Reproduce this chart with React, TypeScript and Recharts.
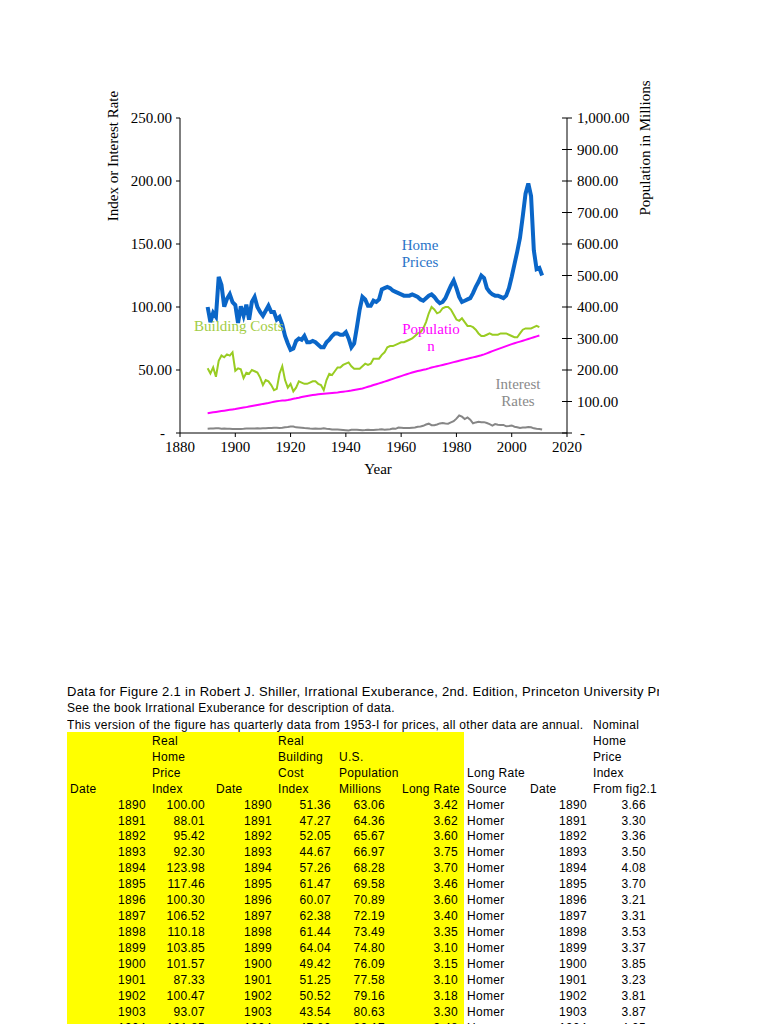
import React from "react";
import { LineChart, Line, XAxis, YAxis } from "recharts";

// years of the annual series
const years = [
  1890, 1891, 1892, 1893, 1894, 1895, 1896, 1897, 1898, 1899,
  1900, 1901, 1902, 1903, 1904, 1905, 1906, 1907, 1908, 1909,
  1910, 1911, 1912, 1913, 1914, 1915, 1916, 1917, 1918, 1919,
  1920, 1921, 1922, 1923, 1924, 1925, 1926, 1927, 1928, 1929,
  1930, 1931, 1932, 1933, 1934, 1935, 1936, 1937, 1938, 1939,
  1940, 1941, 1942, 1943, 1944, 1945, 1946, 1947, 1948, 1949,
  1950, 1951, 1952, 1953, 1954, 1955, 1956, 1957, 1958, 1959,
  1960, 1961, 1962, 1963, 1964, 1965, 1966, 1967, 1968, 1969,
  1970, 1971, 1972, 1973, 1974, 1975, 1976, 1977, 1978, 1979,
  1980, 1981, 1982, 1983, 1984, 1985, 1986, 1987, 1988, 1989,
  1990, 1991, 1992, 1993, 1994, 1995, 1996, 1997, 1998, 1999,
  2000, 2001, 2002, 2003, 2004, 2005, 2006, 2007, 2008, 2009,
  2010, 2011,
];

// Real Home Price Index
const homePrices = [
  100.0, 88.01, 95.42, 92.3, 123.98, 117.46, 100.3, 106.52, 110.18, 103.85,
  101.57, 87.33, 100.47, 93.07, 101.85, 90, 104, 108, 100, 96,
  93, 97, 101, 96, 96, 90, 92, 86, 77, 71,
  66, 67, 73, 75, 74, 77, 72, 72, 73, 72,
  70, 68, 68, 72, 74, 77, 79, 79, 78, 78,
  80, 75, 68, 71, 84, 98, 108, 106, 101, 101,
  105, 104, 106, 114, 115, 116, 115, 113, 112, 111,
  110, 109, 109, 109, 110, 109, 108, 106, 105, 107,
  109, 110, 108, 105, 103, 104, 107, 112, 117, 121,
  115, 108, 104, 105, 106, 107, 111, 116, 120, 125,
  123, 115, 112, 110, 109, 109, 108, 107, 109, 115,
  124, 134, 144, 155, 172, 190, 198, 188, 145, 130,
  131, 125,
];

// Real Building Cost Index
const buildingCosts = [
  51.36, 47.27, 52.05, 44.67, 57.26, 61.47, 60.07, 62.38, 61.44, 64.04,
  49.42, 51.25, 50.52, 43.54, 47.8, 47, 50, 49, 48, 44,
  38, 42, 41, 38, 34, 35, 47, 53, 42, 36,
  39, 33, 36, 41, 40, 39, 39, 40, 41, 41,
  39, 38, 34, 42, 47, 46, 49, 52, 52, 54,
  55, 56, 53, 51, 51, 51, 53, 55, 54, 55,
  59, 59, 59, 62, 64, 68, 69, 69, 70, 71,
  72, 72, 73, 74, 75, 77, 79, 80, 83, 88,
  95, 100, 98, 95, 96, 99, 100, 100, 98, 94,
  90, 89, 91, 88, 85, 85, 84, 82, 79, 77,
  77, 78, 79, 78, 78, 78, 79, 79, 79, 78,
  77, 76, 76, 79, 82, 83, 83, 83, 84, 85,
  84,
];

// U.S. Population, millions
const population = [
  63.06, 64.36, 65.67, 66.97, 68.28, 69.58, 70.89, 72.19, 73.49, 74.8,
  76.09, 77.58, 79.16, 80.63, 82.17, 83.82, 85.45, 87.01, 88.71, 90.49,
  92.41, 93.86, 95.34, 97.23, 99.11, 100.55, 101.96, 103.27, 103.21, 104.51,
  106.46, 108.54, 110.05, 111.95, 114.11, 115.83, 117.4, 119.04, 120.51, 121.77,
  123.08, 124.04, 124.84, 125.58, 126.37, 127.25, 128.05, 128.83, 129.83, 130.88,
  132.12, 133.4, 134.86, 136.74, 138.4, 139.93, 141.39, 144.13, 146.63, 149.19,
  152.27, 154.88, 157.55, 160.18, 163.03, 165.93, 168.9, 171.98, 174.88, 177.83,
  180.67, 183.69, 186.54, 189.24, 191.89, 194.3, 196.56, 198.71, 200.71, 202.68,
  205.05, 207.66, 209.9, 211.91, 213.85, 215.97, 218.04, 220.24, 222.59, 225.06,
  227.23, 229.47, 231.66, 233.79, 235.82, 237.92, 240.13, 242.29, 244.5, 246.82,
  249.62, 252.98, 256.51, 259.92, 263.13, 266.28, 269.39, 272.65, 275.85, 279.04,
  282.16, 285.0, 287.6, 290.1, 292.8, 295.5, 298.4, 301.2, 304.1, 306.8,
  309.3,
];

// Long rate
const longRates = [
  3.42, 3.62, 3.6, 3.75, 3.7, 3.46, 3.6, 3.4, 3.35, 3.1,
  3.15, 3.1, 3.18, 3.3, 3.48, 3.5, 3.5, 3.6, 3.7, 3.6,
  3.7, 3.8, 3.9, 4.0, 4.1, 4.1, 4.0, 4.1, 4.5, 4.7,
  5.1, 5.2, 4.5, 4.4, 4.2, 3.9, 3.8, 3.5, 3.3, 3.6,
  3.3, 3.3, 3.7, 3.3, 3.2, 2.8, 2.7, 2.7, 2.6, 2.4,
  2.2, 2.0, 2.5, 2.5, 2.5, 2.4, 2.2, 2.3, 2.5, 2.3,
  2.3, 2.6, 2.7, 2.9, 2.5, 2.8, 3.0, 3.5, 3.3, 4.3,
  4.1, 3.9, 3.9, 4.0, 4.2, 4.3, 4.9, 5.1, 5.7, 6.7,
  7.4, 6.2, 6.2, 6.8, 7.6, 8.0, 7.6, 7.4, 8.4, 9.4,
  11.4, 13.9, 13.0, 11.1, 12.4, 10.6, 7.7, 8.4, 8.9, 8.5,
  8.6, 7.9, 7.0, 5.9, 7.1, 6.6, 6.4, 6.4, 5.3, 5.6,
  6.0, 5.0, 4.6, 4.0, 4.3, 4.3, 4.8, 4.6, 3.7, 3.3,
  3.2, 2.8,
];

// Nominal Home Price Index (first rows of the sheet)
const nominalIndex = [
  3.66, 3.3, 3.36, 3.5, 4.08, 3.7, 3.21, 3.31, 3.53, 3.37,
  3.85, 3.23, 3.81, 3.87, 4.05,
];

const leftTicks = [0, 50, 100, 150, 200, 250];
const rightTicks = [0, 100, 200, 300, 400, 500, 600, 700, 800, 900, 1000];
const yearTicks = [1880, 1900, 1920, 1940, 1960, 1980, 2000, 2020];

const data = years.map((year, i) => ({
  year,
  home: homePrices[i] ?? null,
  build: buildingCosts[i] ?? null,
  pop: population[i] ?? null,
  rate: longRates[i] ?? null,
}));

const SERIF = "'Liberation Serif', 'DejaVu Serif', serif";
const SANS = "'Liberation Sans', Arial, sans-serif";

const fmt = (v: number) =>
  v === 0
    ? "-"
    : v.toLocaleString("en-US", {
        minimumFractionDigits: 2,
        maximumFractionDigits: 2,
      });

const LeftTick = (props: any) => {
  const { x, y, payload } = props;
  const v = payload.value;
  return (
    <text
      x={v === 0 ? x - 7 : x}
      y={y + 5}
      textAnchor="end"
      fontFamily={SERIF}
      fontSize={15}
      fill="#000"
    >
      {fmt(v)}
    </text>
  );
};

// right axis ticks cross the axis line
const RightTick = (props: any) => {
  const { x, y, payload } = props;
  const v = payload.value;
  return (
    <g>
      <line x1={x - 15} x2={x - 5} y1={y} y2={y} stroke="#000" />
      <text
        x={v === 0 ? x + 3 : x}
        y={y + 5}
        textAnchor="start"
        fontFamily={SERIF}
        fontSize={15}
        fill="#000"
      >
        {fmt(v)}
      </text>
    </g>
  );
};

const YearTick = (props: any) => {
  const { x, y, payload } = props;
  return (
    <text
      x={x}
      y={y + 11}
      textAnchor="middle"
      fontFamily={SERIF}
      fontSize={15}
      fill="#000"
    >
      {payload.value}
    </text>
  );
};

// spreadsheet block under the chart
const titleLines = [
  "Data for Figure 2.1 in Robert J. Shiller, Irrational Exuberance, 2nd. Edition, Princeton University Press",
  "See the book Irrational Exuberance for description of data.",
  "This version of the figure has quarterly data from 1953-I for prices, all other data are annual.",
];

const ROW_H = 15.95;
// centre of each sheet row
const rowCenter = (r: number) =>
  r === 0 ? 690 : r === 1 ? 706.5 : 723.3 + (r - 2) * ROW_H;

type Cell = { text: string; left?: number; right?: number; row: number; size?: number };

function buildCells(): Cell[] {
  const cells: Cell[] = [];
  titleLines.forEach((t, i) =>
    cells.push({ text: t, left: 67, row: i, size: i === 0 ? 13 : 12 })
  );
  cells.push({ text: "Nominal", left: 593, row: 2 });
  const headers: [number, string[]][] = [
    [152, ["Real", "Home", "Price", "Index"]],
    [278, ["Real", "Building", "Cost", "Index"]],
    [339, ["", "U.S.", "Population", "Millions"]],
    [593, ["Home", "Price", "Index", "From fig2.1"]],
  ];
  headers.forEach(([left, lines]) =>
    lines.forEach((t, i) => t && cells.push({ text: t, left, row: 3 + i }))
  );
  cells.push({ text: "Long Rate", left: 467, row: 5 });
  cells.push({ text: "Date", left: 70, row: 6 });
  cells.push({ text: "Date", left: 216, row: 6 });
  cells.push({ text: "Long Rate", right: 460, row: 6 });
  cells.push({ text: "Source", left: 467, row: 6 });
  cells.push({ text: "Date", left: 530, row: 6 });
  nominalIndex.forEach((n, i) => {
    const row = 7 + i;
    cells.push({ text: String(years[i]), right: 146, row });
    cells.push({ text: homePrices[i].toFixed(2), right: 205, row });
    cells.push({ text: String(years[i]), right: 272, row });
    cells.push({ text: buildingCosts[i].toFixed(2), right: 331, row });
    cells.push({ text: population[i].toFixed(2), right: 385, row });
    cells.push({ text: longRates[i].toFixed(2), right: 458, row });
    cells.push({ text: "Homer", left: 467, row });
    cells.push({ text: String(years[i]), right: 587, row });
    cells.push({ text: n.toFixed(2), right: 646, row });
  });
  return cells;
}

export default function App() {
  const cells = buildCells();
  return (
    <div
      style={{
        position: "absolute",
        left: 0,
        top: 0,
        width: 768,
        height: 1024,
        overflow: "hidden",
        background: "#fff",
      }}
    >
      <div style={{ position: "absolute", left: 0, top: 0 }}>
        <LineChart
          width={768}
          height={480}
          data={data}
          margin={{ top: 118, right: 121, bottom: 17, left: 110 }}
        >
          <XAxis
            dataKey="year"
            type="number"
            domain={[1880, 2020]}
            ticks={yearTicks}
            height={30}
            tickSize={4}
            tickMargin={4}
            axisLine={{ stroke: "#000" }}
            tickLine={{ stroke: "#000" }}
            tick={<YearTick />}
          />
          <YAxis
            yAxisId="left"
            domain={[0, 250]}
            ticks={leftTicks}
            width={70}
            tickSize={4}
            tickMargin={4}
            axisLine={{ stroke: "#000" }}
            tickLine={{ stroke: "#000" }}
            tick={<LeftTick />}
          />
          <YAxis
            yAxisId="right"
            orientation="right"
            domain={[0, 1000]}
            ticks={rightTicks}
            width={80}
            tickSize={5}
            tickMargin={5}
            axisLine={{ stroke: "#000" }}
            tickLine={false}
            tick={<RightTick />}
          />
          <Line
            yAxisId="left"
            dataKey="rate"
            stroke="#868686"
            strokeWidth={2}
            dot={false}
            isAnimationActive={false}
          />
          <Line
            yAxisId="right"
            dataKey="pop"
            stroke="#ff00ff"
            strokeWidth={2}
            dot={false}
            isAnimationActive={false}
          />
          <Line
            yAxisId="left"
            dataKey="build"
            stroke="#99cc22"
            strokeWidth={2}
            dot={false}
            isAnimationActive={false}
          />
          <Line
            yAxisId="left"
            dataKey="home"
            stroke="#0a66c8"
            strokeWidth={4}
            dot={false}
            isAnimationActive={false}
          />
        </LineChart>
      </div>

      {/* axis titles and series labels */}
      <svg
        width={768}
        height={480}
        style={{ position: "absolute", left: 0, top: 0, pointerEvents: "none" }}
        fontFamily={SERIF}
        fontSize={15}
      >
        <text
          x={118}
          y={156}
          textAnchor="middle"
          transform="rotate(-90 118 156)"
          fill="#000"
        >
          Index or Interest Rate
        </text>
        <text
          x={650}
          y={148}
          textAnchor="middle"
          transform="rotate(-90 650 148)"
          fill="#000"
        >
          Population in Millions
        </text>
        <text x={378} y={474} textAnchor="middle" fill="#000">
          Year
        </text>
        <text x={420} y={250} textAnchor="middle" fill="#2a74c8">
          Home
        </text>
        <text x={420} y={267} textAnchor="middle" fill="#2a74c8">
          Prices
        </text>
        <text x={194} y={331} fill="#a2cc44">
          Building Costs
        </text>
        <text x={431} y={334} textAnchor="middle" fill="#ff00ff">
          Populatio
        </text>
        <text x={431} y={351} textAnchor="middle" fill="#ff00ff">
          n
        </text>
        <text x={518} y={389} textAnchor="middle" fill="#8a8a8a">
          Interest
        </text>
        <text x={518} y={406} textAnchor="middle" fill="#8a8a8a">
          Rates
        </text>
      </svg>

      {/* spreadsheet data block */}
      <div
        style={{
          position: "absolute",
          left: 67,
          top: 731.5,
          width: 397,
          height: 400,
          background: "#ffff00",
        }}
      />
      {cells.map((c, i) => (
        <div
          key={i}
          style={{
            position: "absolute",
            top: rowCenter(c.row) - 8 + 1.5,
            height: 16,
            lineHeight: "16px",
            fontFamily: SANS,
            fontSize: c.size ?? 12,
            letterSpacing: 0.3,
            color: "#000",
            whiteSpace: "nowrap",
            ...(c.left !== undefined
              ? { left: c.left, maxWidth: 659 - c.left, overflow: "hidden" }
              : { right: 768 - (c.right as number) }),
          }}
        >
          {c.text}
        </div>
      ))}
    </div>
  );
}
